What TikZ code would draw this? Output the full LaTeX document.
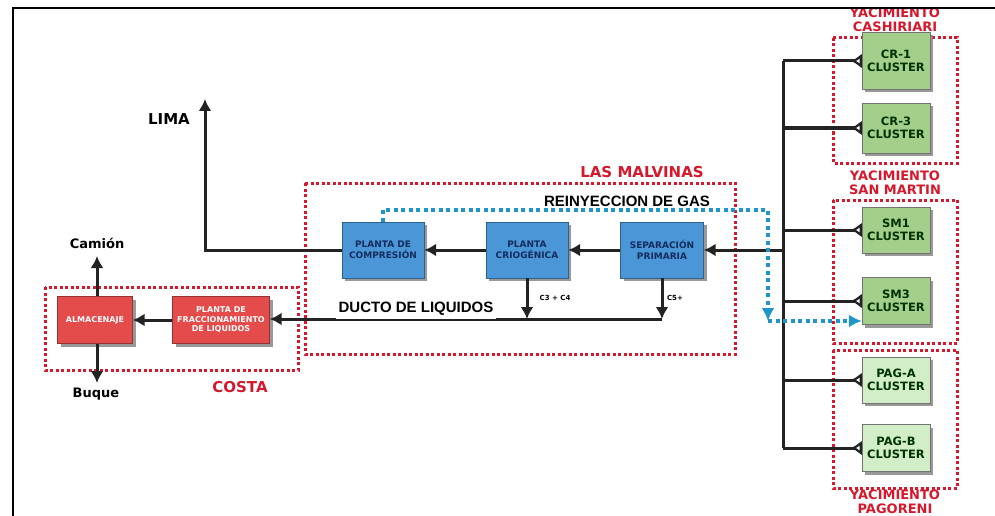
\documentclass[tikz,border=0pt]{standalone}
\usepackage{fontspec}
\setmainfont{DejaVu Sans}
\newfontfamily\arialfont{Liberation Sans}
\usetikzlibrary{arrows.meta}
\usetikzlibrary{shadows}
\definecolor{cblue}{RGB}{74,150,214}
\definecolor{cred}{RGB}{228,76,76}
\definecolor{cgreen}{RGB}{163,207,138}
\definecolor{clight}{RGB}{210,238,200}
\definecolor{ctitle}{RGB}{214,24,44}
\definecolor{cgas}{RGB}{30,150,200}
\definecolor{cnavy}{RGB}{20,45,95}
\definecolor{cline}{RGB}{35,35,35}

\tikzset{
  boxshadow/.style={drop shadow={shadow xshift=3pt, shadow yshift=-3pt, opacity=0.8}},
  plant/.style={boxshadow, draw=cblue!65!black, fill=cblue, minimum width=82pt, minimum height=56pt,
    inner sep=1pt, align=center, text=cnavy, font=\bfseries\fontsize{9}{11}\selectfont},
  coast/.style={boxshadow, draw=cred!65!black, fill=cred, minimum height=47pt,
    inner sep=1pt, align=center, text=white, font=\bfseries\fontsize{8}{9.5}\selectfont},
  cluster/.style={boxshadow, draw=black!55, minimum width=68pt,
    inner sep=1pt, align=center, text=black!80!green, font=\bfseries\fontsize{11.5}{13.5}\selectfont},
  zone/.style={ctitle, line width=3pt, dash pattern=on 3pt off 2.5pt},
  title/.style={text=ctitle, align=center, font=\bfseries\fontsize{13}{14}\selectfont},
  flowlbl/.style={font=\arialfont\bfseries\fontsize{15}{16}\selectfont},
  outlbl/.style={font=\bfseries\fontsize{13}{14}\selectfont},
  flow/.style={cline, line width=3pt, -{Latex[length=12pt, width=13pt]}},
  feed/.style={cline, line width=3pt, {Latex[reversed, open, length=11pt, width=15pt, fill=white]}-},
  gas/.style={cgas, line width=3.5pt, dash pattern=on 4pt off 3.5pt, -{Latex[length=13pt, width=13pt]}},
}

\begin{document}
\begin{tikzpicture}[x=1pt, y=-1pt]

\useasboundingbox (0, 0) rectangle (995, 516);

% zones
\draw [zone] (305, 183) rectangle (735, 354);
\draw [zone] (45, 287) rectangle (298, 370);
\draw [zone] (833, 38) rectangle (957, 163);
\draw [zone] (833, 200) rectangle (957, 343);
\draw [zone] (833, 350) rectangle (957, 488);

% zone labels
\node [title, font=\bfseries\fontsize{15}{16}\selectfont] (malvinas) at (642, 172) {LAS MALVINAS};
\node [title, font=\bfseries\fontsize{15}{16}\selectfont] (costa) at (240, 387) {COSTA};
\node [title] (cashiriari) at (895, 20) {YACIMIENTO\\CASHIRIARI};
\node [title] (sanmartin) at (895, 183) {YACIMIENTO\\SAN MARTIN};
\node [title] (pagoreni) at (895, 502) {YACIMIENTO\\PAGORENI};

% plants
\node [plant] (comp) at (383, 250) {PLANTA DE\\COMPRESIÓN};
\node [plant] (crio) at (527, 250) {PLANTA\\CRIOGÉNICA};
\node [plant, minimum width=83pt] (sep) at (662, 250) {SEPARACIÓN\\PRIMARIA};
\node [coast, minimum width=75pt] (alm) at (95, 320) {ALMACENAJE};
\node [coast, minimum width=97pt] (frac) at (221, 320) {PLANTA DE\\FRACCIONAMIENTO\\DE LIQUIDOS};

% clusters and the gathering line
\coordinate (trunk) at (783, 250);
\foreach \nm/\lbl/\y/\h/\col in {cra/CR-1/61/57/cgreen, crb/CR-3/128/50/cgreen,
    sma/SM1/230/46/cgreen, smb/SM3/301/47/cgreen,
    paga/PAG-A/380/46/clight, pagb/PAG-B/448/47/clight} {
    \node [cluster, fill=\col, minimum height=\h] (\nm) at (896, \y) {\lbl\\CLUSTER};
    \draw [feed] (\nm.west) -- (\nm.west -| trunk);
}
\draw [cline, line width=3pt] (cra.west -| trunk) -- (pagb.west -| trunk);
\draw [flow] (trunk) -- (sep.east);

% gas line
\draw [flow] (sep.west) -- (crio.east);
\draw [flow] (crio.west) -- (comp.east);
\coordinate (lima) at (205, 99);
\draw [flow] (comp.west) -| (lima);
\node [outlbl, font=\bfseries\fontsize{15}{16}\selectfont] (limalbl) at (169, 119) {LIMA};

% gas reinjection
\coordinate (gastop) at (768, 210);
\coordinate (gasbot) at (768, 321);
\node [flowlbl] (reiny) at (627, 201) {REINYECCION DE GAS};
\draw [gas] (comp.north) -- (comp.north |- gastop) -- (gastop) -- (gasbot);
\draw [gas] (gasbot) -- (gasbot -| smb.west);

% liquids
\coordinate (ducto) at (660, 319);
\draw [flow] (crio.south) -- (crio.south |- ducto);
\draw [flow] (sep.south) -- (sep.south |- ducto);
\draw [flow] (sep.south |- ducto) -- (frac.east |- ducto);
\node [flowlbl, fill=white, inner sep=3pt] (ductolbl) at (416, 309) {DUCTO DE LIQUIDOS};
\node [font=\bfseries\fontsize{7}{8}\selectfont] (c34) at (555, 298) {C3 + C4};
\node [font=\bfseries\fontsize{7}{8}\selectfont] (c5) at (675, 298) {C5+};

% coast outlets
\draw [flow] (frac.west) -- (alm.east);
\coordinate (camion) at (97, 256);
\coordinate (buque) at (97, 383);
\draw [flow] (alm.north -| camion) -- (camion);
\draw [flow] (alm.south -| buque) -- (buque);
\node [outlbl] (camionlbl) at (97, 243) {Camión};
\node [outlbl] (buquelbl) at (96, 394) {Buque};

% frame
\draw [black, line width=2.5pt] (995, 8) -- (13, 8) -- (13, 516);

\end{tikzpicture}
\end{document}
